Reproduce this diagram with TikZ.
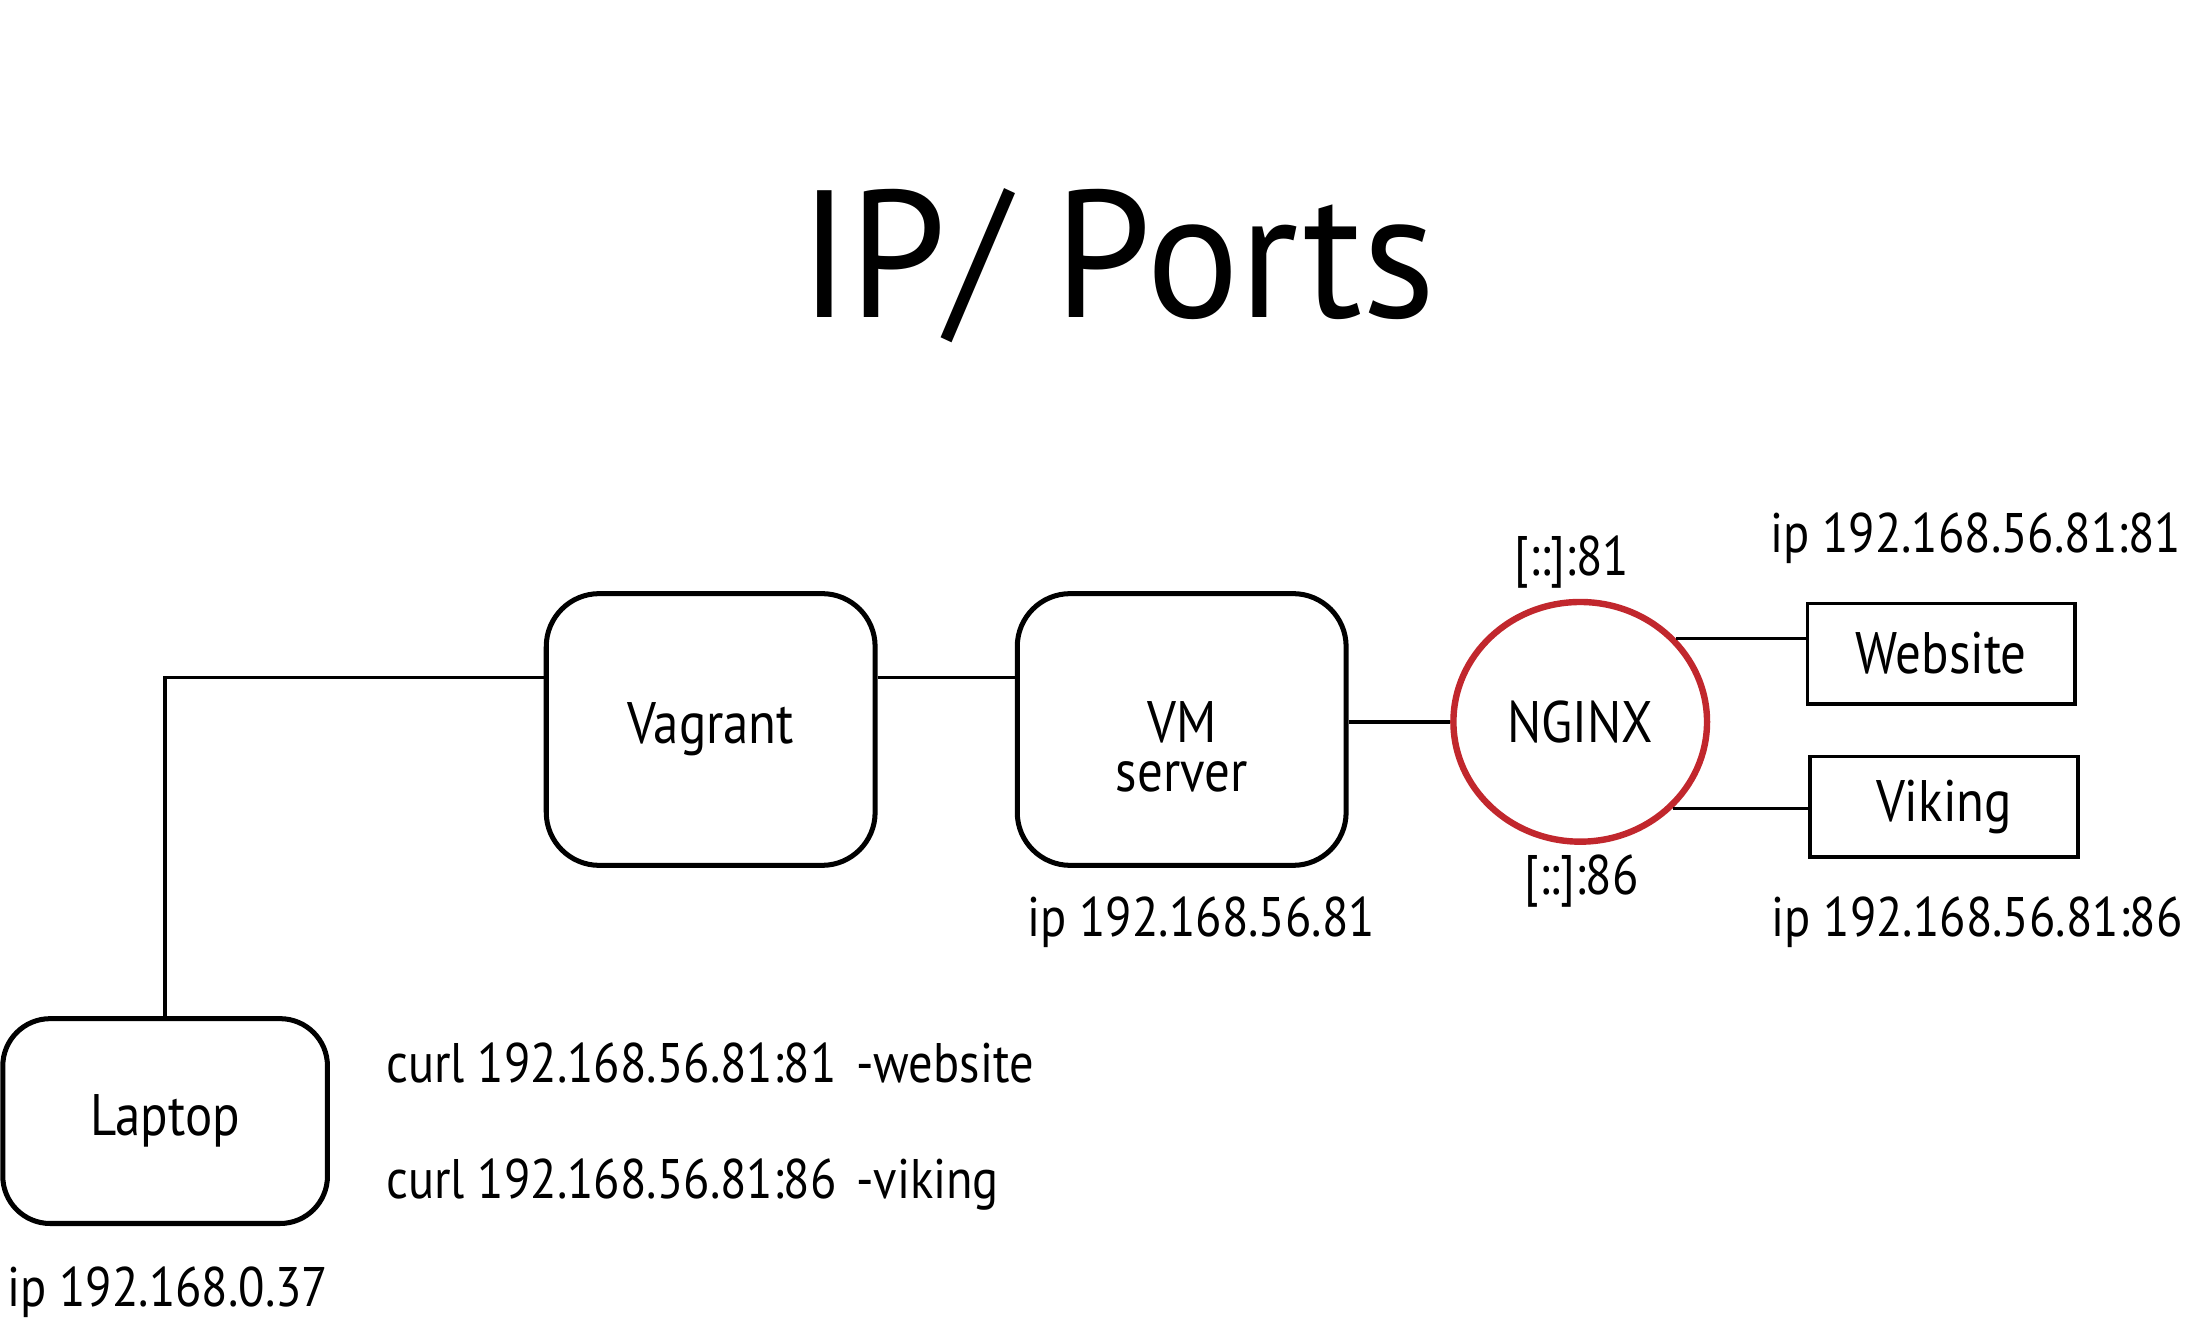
\documentclass[tikz,border=0pt]{standalone}
\usepackage{fontspec}
\setmainfont{PT Sans}[FakeStretch=0.87]
\newfontfamily\titlefont{PT Sans}[FakeStretch=0.96]
\usetikzlibrary{shapes.geometric}
\definecolor{nred}{HTML}{C1272D}
\begin{document}
\begin{tikzpicture}[x=1pt,y=-1pt,
  bfont/.style={font=\fontsize{42}{44}\selectfont},
  rbox/.style={draw,line width=3.6pt,rounded corners=38pt,minimum width=236pt,minimum height=195pt,inner sep=0pt,bfont,align=center},
  sbox/.style={draw,line width=2.6pt,minimum width=192pt,minimum height=72pt,inner sep=0pt,bfont},
  lbl/.style={inner sep=0pt,font=\fontsize{40}{44}\selectfont},
  vmtext/.style={inner sep=0pt,bfont},
  conn/.style={line width=2.4pt}]
\useasboundingbox (0,0) rectangle (1568,951.6);
\node[inner sep=0pt,anchor=base,font=\titlefont\fontsize{130}{140}\selectfont] (title) at (802,228) {IP/ Ports};
\node[rbox] (vagrant) at (510,523.5) {Vagrant};
\node[rbox,
  label={[vmtext,yshift=5pt]center:VM},
  label={[vmtext,yshift=-34pt]center:server}] (vm) at (848,523.5) {};
\node[rbox,minimum width=233pt,minimum height=147pt,rounded corners=34pt] (laptop) at (118.5,804.5) {Laptop};
\node[ellipse,draw=nred,line width=4.6pt,minimum width=182pt,minimum height=172pt,inner sep=0pt,bfont] (nginx) at (1134,518) {NGINX};
\node[sbox] (website) at (1393,469) {Website};
\node[sbox] (viking) at (1395,579) {Viking};
\draw[conn] (laptop.north) |- ([yshift=37.5pt]vagrant.west);
\draw[conn] ([yshift=37.5pt]vagrant.east) -- ([yshift=37.5pt]vm.west);
\draw[conn] (vm.east |- nginx.west) -- (nginx.west);
\draw[conn] (nginx.41) -- (nginx.41 -| website.west);
\draw[conn] (nginx.-43.5) -- (nginx.-43.5 -| viking.west);
\node[lbl] (p81) at (1128,403) {[::]:81};
\node[lbl] (p86) at (1135,632) {[::]:86};
\node[lbl,anchor=west] (ipw) at (1270,386) {ip 192.168.56.81:81};
\node[lbl,anchor=west] (ipv) at (1271,662) {ip 192.168.56.81:86};
\node[lbl,anchor=west] (ipvm) at (737,662) {ip 192.168.56.81};
\node[lbl,anchor=west] (c1) at (277,763) {curl 192.168.56.81:81\hspace{0.35em}-website};
\node[lbl,anchor=west] (c2) at (277,850) {curl 192.168.56.81:86\hspace{0.35em}-viking};
\node[lbl,anchor=west] (iplap) at (5,927) {ip 192.168.0.37};
\end{tikzpicture}
\end{document}
